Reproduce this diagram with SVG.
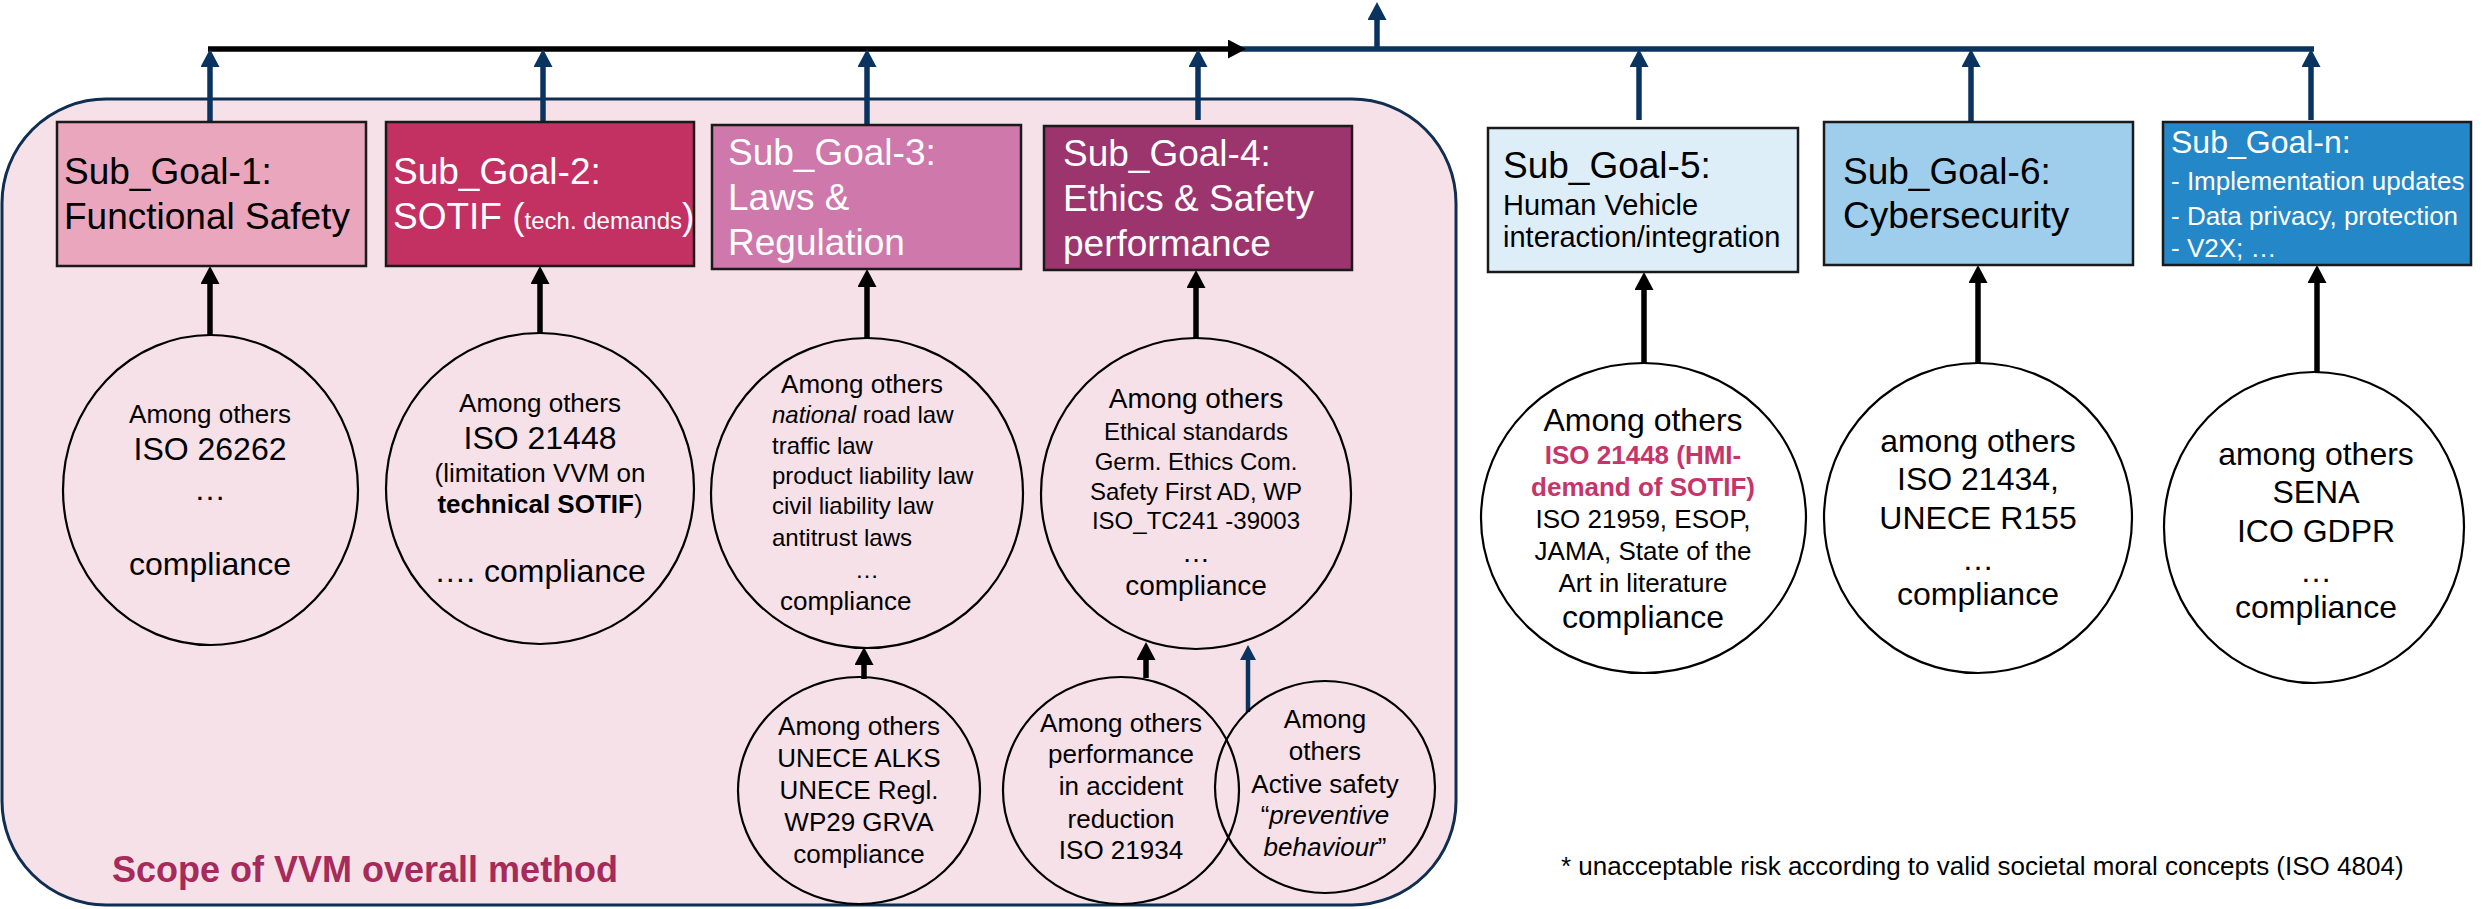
<svg xmlns="http://www.w3.org/2000/svg" width="2484" height="909" viewBox="0 0 2484 909">
  <style>
    text { font-family: "Liberation Sans", Arial, sans-serif; fill: #000; }
    .title { font-size: 37px; }
    .white { fill: #fff; }
    .box { stroke: #1a1a1a; stroke-width: 2.5; }
    .ell { fill: none; stroke: #000; stroke-width: 2.2; }
    .ell-w { fill: #fff; stroke: #000; stroke-width: 2.2; }
    .s24 { font-size: 24px; }
    .s26 { font-size: 26px; }
    .s28 { font-size: 28px; }
    .s29 { font-size: 29px; }
    .s32 { font-size: 32px; }
    .mid { text-anchor: middle; }
    .bold { font-weight: bold; }
    .it { font-style: italic; }
    .red { fill: #C7346A; }
    .navy { stroke: #0B3360; stroke-width: 5.5; fill: none; }
    .blk { stroke: #000; stroke-width: 5.5; fill: none; }
  </style>
  <defs>
    <marker id="headNavy" markerUnits="userSpaceOnUse" markerWidth="19" markerHeight="19" viewBox="0 0 18 19" refX="7" refY="9.5" orient="auto">
      <path d="M0,0 L18,9.5 L0,19 z" fill="#0B3360"/>
    </marker>
    <marker id="headBlk" markerUnits="userSpaceOnUse" markerWidth="19" markerHeight="19" viewBox="0 0 18 19" refX="7" refY="9.5" orient="auto">
      <path d="M0,0 L18,9.5 L0,19 z" fill="#000"/>
    </marker>
    <marker id="headNavySm" markerUnits="userSpaceOnUse" markerWidth="16" markerHeight="16" viewBox="0 0 15 16" refX="6" refY="8" orient="auto">
      <path d="M0,0 L15,8 L0,16 z" fill="#0B3360"/>
    </marker>
  </defs>

  <!-- scope frame -->
  <g id="scope">
    <rect x="2" y="99" width="1454" height="806" rx="104" ry="104" fill="#F6E1E8" stroke="#0F2E52" stroke-width="3"/>
    <text x="112" y="882" font-size="36" font-weight="bold" style="fill:#A62A5A">Scope of VVM overall method</text>
  </g>

  <!-- connectors -->
  <g id="connectors">
    <!-- top collecting bus -->
    <line class="navy" x1="1232" y1="49" x2="2314" y2="49"/>
    <line class="blk" x1="208" y1="49" x2="1235" y2="49" marker-end="url(#headBlk)"/>
    <line class="navy" x1="1377" y1="49" x2="1377" y2="13" marker-end="url(#headNavy)"/>
    <!-- sub goals up to the bus -->
    <line class="navy" x1="210" y1="122" x2="210" y2="60" marker-end="url(#headNavy)"/>
    <line class="navy" x1="543" y1="124" x2="543" y2="60" marker-end="url(#headNavy)"/>
    <line class="navy" x1="867" y1="125" x2="867" y2="60" marker-end="url(#headNavy)"/>
    <line class="navy" x1="1198" y1="120" x2="1198" y2="60" marker-end="url(#headNavy)"/>
    <line class="navy" x1="1639" y1="120" x2="1639" y2="60" marker-end="url(#headNavy)"/>
    <line class="navy" x1="1971" y1="121" x2="1971" y2="60" marker-end="url(#headNavy)"/>
    <line class="navy" x1="2311" y1="120" x2="2311" y2="60" marker-end="url(#headNavy)"/>
    <!-- sources up to the sub goals -->
    <line class="blk" x1="210" y1="336" x2="210" y2="277" marker-end="url(#headBlk)"/>
    <line class="blk" x1="540" y1="334" x2="540" y2="277" marker-end="url(#headBlk)"/>
    <line class="blk" x1="867" y1="339" x2="867" y2="280" marker-end="url(#headBlk)"/>
    <line class="blk" x1="1196" y1="339" x2="1196" y2="281" marker-end="url(#headBlk)"/>
    <line class="blk" x1="1644" y1="364" x2="1644" y2="283" marker-end="url(#headBlk)"/>
    <line class="blk" x1="1978" y1="364" x2="1978" y2="276" marker-end="url(#headBlk)"/>
    <line class="blk" x1="2317" y1="373" x2="2317" y2="276" marker-end="url(#headBlk)"/>
    <!-- secondary sources -->
    <line class="blk" x1="864" y1="679" x2="864" y2="658" marker-end="url(#headBlk)"/>
    <line class="blk" x1="1146" y1="678" x2="1146" y2="653" marker-end="url(#headBlk)"/>
    <line x1="1248" y1="712" x2="1248" y2="654" stroke="#0B3360" stroke-width="4.5" marker-end="url(#headNavySm)"/>
  </g>

  <!-- sub goal boxes -->
  <g id="sg1">
    <rect class="box" x="57" y="122" width="309" height="144" fill="#E9A6BC"/>
    <text class="title" x="64" y="184">Sub_Goal-1:</text>
    <text class="title" x="64" y="229">Functional Safety</text>
  </g>
  <g id="sg2">
    <rect class="box" x="386" y="122" width="308" height="144" fill="#C33062"/>
    <text class="title white" x="393" y="184">Sub_Goal-2:</text>
    <text class="title white" x="393" y="229">SOTIF (<tspan font-size="24">tech. demands</tspan>)</text>
  </g>
  <g id="sg3">
    <rect class="box" x="712" y="125" width="309" height="144" fill="#CE78AB"/>
    <text class="title white" x="728" y="165">Sub_Goal-3:</text>
    <text class="title white" x="728" y="210">Laws &amp;</text>
    <text class="title white" x="728" y="255">Regulation</text>
  </g>
  <g id="sg4">
    <rect class="box" x="1044" y="126" width="308" height="144" fill="#9C346E"/>
    <text class="title white" x="1063" y="166">Sub_Goal-4:</text>
    <text class="title white" x="1063" y="211">Ethics &amp; Safety</text>
    <text class="title white" x="1063" y="256">performance</text>
  </g>
  <g id="sg5">
    <rect class="box" x="1488" y="128" width="310" height="144" fill="#DDEEF9"/>
    <text class="title" x="1503" y="178">Sub_Goal-5:</text>
    <text class="s29" x="1503" y="215">Human Vehicle</text>
    <text class="s29" x="1503" y="247">interaction/integration</text>
  </g>
  <g id="sg6">
    <rect class="box" x="1824" y="122" width="309" height="143" fill="#9FCDEC"/>
    <text class="title" x="1843" y="184">Sub_Goal-6:</text>
    <text class="title" x="1843" y="228">Cybersecurity</text>
  </g>
  <g id="sgn">
    <rect class="box" x="2163" y="122" width="308" height="143" fill="#2488C8"/>
    <text class="s32 white" x="2171" y="153">Sub_Goal-n:</text>
    <text class="s26 white" x="2171" y="190">- Implementation updates</text>
    <text class="s26 white" x="2171" y="225">- Data privacy, protection</text>
    <text class="s26 white" x="2171" y="257">- V2X; …</text>
  </g>

  <!-- sources -->
  <g id="src1">
    <ellipse class="ell" cx="210.5" cy="490" rx="147.5" ry="155"/>
    <text class="s26 mid" x="210" y="423">Among others</text>
    <text class="s32 mid" x="210" y="460">ISO 26262</text>
    <text class="s32 mid" x="210" y="500">…</text>
    <text class="s32 mid" x="210" y="575">compliance</text>
  </g>
  <g id="src2">
    <ellipse class="ell" cx="540" cy="488.5" rx="154" ry="155.5"/>
    <text class="s26 mid" x="540" y="412">Among others</text>
    <text class="s32 mid" x="540" y="449">ISO 21448</text>
    <text class="s26 mid" x="540" y="482">(limitation VVM on</text>
    <text class="s26 mid" x="540" y="513"><tspan class="bold">technical SOTIF</tspan>)</text>
    <text class="s32 mid" x="540" y="582">…. compliance</text>
  </g>
  <g id="src3">
    <ellipse class="ell" cx="867" cy="493" rx="156" ry="155"/>
    <text class="s26 mid" x="862" y="393">Among others</text>
    <text class="s24" x="772" y="423"><tspan class="it">national</tspan> road law</text>
    <text class="s24" x="772" y="454">traffic law</text>
    <text class="s24" x="772" y="484">product liability law</text>
    <text class="s24" x="772" y="514">civil liability law</text>
    <text class="s24" x="772" y="546">antitrust laws</text>
    <text class="s24 mid" x="867" y="578">…</text>
    <text class="s26" x="780" y="610">compliance</text>
  </g>
  <g id="src4">
    <ellipse class="ell" cx="1196" cy="493.5" rx="155" ry="155.5"/>
    <text class="s28 mid" x="1196" y="408">Among others</text>
    <text class="s24 mid" x="1196" y="440">Ethical standards</text>
    <text class="s24 mid" x="1196" y="470">Germ. Ethics Com.</text>
    <text class="s24 mid" x="1196" y="500">Safety First AD, WP</text>
    <text class="s24 mid" x="1196" y="529">ISO_TC241 -39003</text>
    <text class="s28 mid" x="1196" y="562">…</text>
    <text class="s28 mid" x="1196" y="595">compliance</text>
  </g>
  <g id="src3b">
    <ellipse class="ell" cx="859" cy="790.5" rx="121" ry="113.5"/>
    <text class="s26 mid" x="859" y="735">Among others</text>
    <text class="s26 mid" x="859" y="767">UNECE ALKS</text>
    <text class="s26 mid" x="859" y="799">UNECE Regl.</text>
    <text class="s26 mid" x="859" y="831">WP29 GRVA</text>
    <text class="s26 mid" x="859" y="863">compliance</text>
  </g>
  <g id="src4b">
    <ellipse class="ell" cx="1121" cy="790.5" rx="118" ry="113.5"/>
    <text class="s26 mid" x="1121" y="732">Among others</text>
    <text class="s26 mid" x="1121" y="763">performance</text>
    <text class="s26 mid" x="1121" y="795">in accident</text>
    <text class="s26 mid" x="1121" y="828">reduction</text>
    <text class="s26 mid" x="1121" y="859">ISO 21934</text>
  </g>
  <g id="src4c">
    <ellipse class="ell" cx="1325" cy="787" rx="110" ry="106"/>
    <text class="s26 mid" x="1325" y="728">Among</text>
    <text class="s26 mid" x="1325" y="760">others</text>
    <text class="s26 mid" x="1325" y="793">Active safety</text>
    <text class="s26 mid" x="1325" y="824">“<tspan class="it">preventive</tspan></text>
    <text class="s26 mid" x="1325" y="856"><tspan class="it">behaviour</tspan>”</text>
  </g>
  <g id="src5">
    <ellipse class="ell-w" cx="1643.5" cy="518" rx="162.5" ry="155"/>
    <text class="s32 mid" x="1643" y="431">Among others</text>
    <text class="s26 mid bold red" x="1643" y="464">ISO 21448 (HMI-</text>
    <text class="s26 mid bold red" x="1643" y="496">demand of SOTIF)</text>
    <text class="s26 mid" x="1643" y="528">ISO 21959, ESOP,</text>
    <text class="s26 mid" x="1643" y="560">JAMA, State of the</text>
    <text class="s26 mid" x="1643" y="592">Art in literature</text>
    <text class="s32 mid" x="1643" y="628">compliance</text>
  </g>
  <g id="src6">
    <ellipse class="ell-w" cx="1978" cy="518" rx="154" ry="155"/>
    <text class="s32 mid" x="1978" y="452">among others</text>
    <text class="s32 mid" x="1978" y="490">ISO 21434,</text>
    <text class="s32 mid" x="1978" y="529">UNECE R155</text>
    <text class="s32 mid" x="1978" y="570">…</text>
    <text class="s32 mid" x="1978" y="605">compliance</text>
  </g>
  <g id="srcn">
    <ellipse class="ell-w" cx="2314" cy="527.5" rx="150" ry="155.5"/>
    <text class="s32 mid" x="2316" y="465">among others</text>
    <text class="s32 mid" x="2316" y="503">SENA</text>
    <text class="s32 mid" x="2316" y="542">ICO GDPR</text>
    <text class="s32 mid" x="2316" y="582">…</text>
    <text class="s32 mid" x="2316" y="618">compliance</text>
  </g>

  <g id="footnote">
    <text class="s26" x="1561" y="875">* unacceptable risk according to valid societal moral concepts (ISO 4804)</text>
  </g>
</svg>
